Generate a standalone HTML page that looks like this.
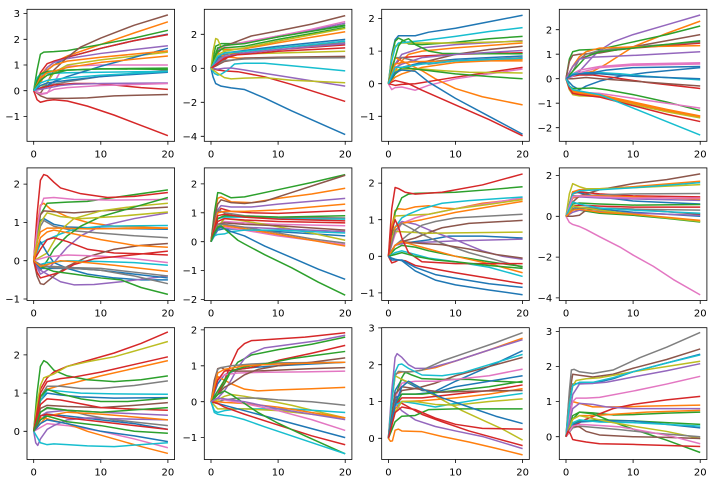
<!DOCTYPE html>
<html><head><meta charset="utf-8"><style>
body{margin:0;background:#fff}
svg{display:block}
.L path{fill:none;stroke-width:1.5px;vector-effect:non-scaling-stroke;stroke-linejoin:round}
.b{stroke:#1f77b4}.o{stroke:#ff7f0e}.g{stroke:#2ca02c}.r{stroke:#d62728}.p{stroke:#9467bd}
.n{stroke:#8c564b}.k{stroke:#e377c2}.a{stroke:#7f7f7f}.l{stroke:#bcbd22}.c{stroke:#17becf}
text{font-family:"DejaVu Sans","Liberation Sans",sans-serif;font-size:10px;fill:#000}
.ax{fill:none;stroke:#000;stroke-width:0.8}
.tk{fill:none;stroke:#000;stroke-width:0.8}
.xt{text-anchor:middle}.yt{text-anchor:end}
</style></head><body>
<svg width="720" height="488" viewBox="0 0 720 488" xmlns="http://www.w3.org/2000/svg">
<defs>
<clipPath id="c11"><rect x="27" y="9.3" width="147.6" height="132"/></clipPath>
<clipPath id="c12"><rect x="204.3" y="9.3" width="147.6" height="132"/></clipPath>
<clipPath id="c13"><rect x="381.7" y="9.3" width="147.6" height="132"/></clipPath>
<clipPath id="c14"><rect x="559.3" y="9.3" width="147.6" height="132"/></clipPath>
<clipPath id="c21"><rect x="27" y="167.9" width="147.6" height="132.6"/></clipPath>
<clipPath id="c22"><rect x="204.3" y="167.9" width="147.6" height="132.6"/></clipPath>
<clipPath id="c23"><rect x="381.7" y="167.9" width="147.6" height="132.6"/></clipPath>
<clipPath id="c24"><rect x="559.3" y="167.9" width="147.6" height="132.6"/></clipPath>
<clipPath id="c31"><rect x="27" y="327.7" width="147.6" height="131.8"/></clipPath>
<clipPath id="c32"><rect x="204.3" y="327.7" width="147.6" height="131.8"/></clipPath>
<clipPath id="c33"><rect x="381.7" y="327.7" width="147.6" height="131.8"/></clipPath>
<clipPath id="c34"><rect x="559.3" y="327.7" width="147.6" height="131.8"/></clipPath>
</defs>

<!-- (1,1) -->
<g clip-path="url(#c11)"><g class="L" transform="matrix(6.71 0 0 -25.7 33.7 90.7)">
<path class="b" d="M0 0L1 .5 2 .8 3 1 5 1.3 10 1.65 15 1.95 20 2.2"/>
<path class="o" d="M0 0L1 .6 2 .9 3 1.1 5 1.35 10 1.8 15 2.25 20 2.68"/>
<path class="g" d="M0 0L.5 .8 1 1.42 1.5 1.5 3 1.52 5 1.56 10 1.8 15 2.05 20 2.35"/>
<path class="r" d="M0 0L1 .7 2 1.05 3 1.15 5 1.3 10 1.65 15 1.95 20 2.18"/>
<path class="p" d="M0 0L1 .4 2 .9 3 1.1 5 1.25 10 1.45 20 1.75"/>
<path class="n" d="M0 0L1 -.1 2 .3 3 .8 5 1.3 7 1.7 10 2.05 15 2.55 20 2.95"/>
<path class="k" d="M0 0L1 -.15 2 -.1 3 .3 4 .75 5 .95 10 1 20 1"/>
<path class="a" d="M0 0L1 .1 2 .2 5 .35 10 .55 20 .8"/>
<path class="l" d="M0 0L1 .1 2 .3 3 .7 5 1 10 1.2 20 1.5"/>
<path class="c" d="M0 0L.5 .5 1 .65 2 .67 5 .7 10 .72 20 .75"/>
<path class="b" d="M0 0L1 .1 2 .2 3 .35 5 .55 10 .95 15 1.3 20 1.65"/>
<path class="o" d="M0 0L1 .3 2 .8 3 1 5 1.15 10 1.3 20 1.55"/>
<path class="g" d="M0 0L.5 .4 1 .65 2 .75 5 .8 10 .85 20 .88"/>
<path class="r" d="M0 0L1 .1 3 .22 6 .28 9 .28 12 .22 16 .12 20 .05"/>
<path class="p" d="M0 0L1 .05 2 .1 4 .2 6 .25 10 .28 20 .3"/>
<path class="n" d="M0 0L1 -.2 2 -.3 5 -.3 8 -.28 12 -.2 20 -.15"/>
<path class="k" d="M0 0L1 -.12 2 -.08 3 .05 5 .12 10 .2 20 .28"/>
<path class="o" d="M0 0L1 .5 2 .7 5 .9 10 1.1 20 1.35"/>
<path class="g" d="M0 0L1 .4 2 .6 5 .8 10 .85 20 .83"/>
<path class="r" d="M0 0L.5 -.35 1 -.45 2 -.38 3 -.35 5 -.4 8 -.6 12 -.95 16 -1.35 20 -1.75"/>
<path class="b" d="M0 0L1 .2 2 .3 5 .4 10 .55 20 .72"/>
<path class="c" d="M0 0L1 .3 2 .4 5 .5 10 .6 20 .75"/>
</g></g>
<rect class="ax" x="27" y="9.3" width="147.6" height="132"/>
<path class="tk" d="M33.7 141.3v3.5M100.8 141.3v3.5M167.9 141.3v3.5M27 13.6h-3.5M27 39.3h-3.5M27 65h-3.5M27 90.7h-3.5M27 116.4h-3.5"/>
<text class="xt" x="33.7" y="157.3">0</text><text class="xt" x="100.8" y="157.3">10</text><text class="xt" x="167.9" y="157.3">20</text>
<text class="yt" x="20" y="17.2">3</text><text class="yt" x="20" y="42.9">2</text><text class="yt" x="20" y="68.6">1</text><text class="yt" x="20" y="94.3">0</text><text class="yt" x="20" y="120">−1</text>

<!-- (1,2) -->
<g clip-path="url(#c12)"><g class="L" transform="matrix(6.71 0 0 -17 211 68.3)">
<path class="b" d="M0 0L.3 -.5 .7 -.9 1.5 -1.05 3 -1.15 5 -1.25 8 -1.75 12 -2.5 16 -3.2 20 -3.9"/>
<path class="o" d="M0 0L1 1.2 2 1.1 5 1.15 10 1.5 20 2.15"/>
<path class="g" d="M0 0L.7 1.3 1.5 1.45 3 1.45 5 1.5 10 1.85 20 2.55"/>
<path class="r" d="M0 0L1 -.1 2 -.15 4 -.2 6 -.35 8 -.5 12 -.95 16 -1.45 20 -1.95"/>
<path class="p" d="M0 0L1 1.1 2 1.35 5 1.5 10 1.9 15 2.25 20 2.65"/>
<path class="n" d="M0 0L1 .9 2 1.3 4 1.6 6 1.9 10 2.2 15 2.6 20 3.1"/>
<path class="k" d="M0 0L1 1 2 1.3 5 1.55 10 1.9 15 2.3 20 2.75"/>
<path class="a" d="M0 0L1 .5 2 .8 5 1 10 1.2 20 1.5"/>
<path class="l" d="M0 0L.3 1 .7 1.75 1 1.7 1.5 1.25 2 .95 3 .85 5 .85 10 .9 20 1"/>
<path class="c" d="M0 0L.5 -.3 1 -.4 1.5 -.35 2.5 -.1 3.5 .25 5 .3 8 .3 12 .15 20 -.15"/>
<path class="b" d="M0 0L1 .6 2 .9 5 1.05 10 1.3 20 1.7"/>
<path class="o" d="M0 0L.5 .5 1 .9 2 .7 4 .6 10 .62 20 .65"/>
<path class="g" d="M0 0L1 1.2 2 1.35 5 1.45 10 1.85 20 2.5"/>
<path class="r" d="M0 0L1 .2 2 .5 3 .8 5 .9 10 1.1 20 1.38"/>
<path class="p" d="M0 0L1 -.05 2 0 3 .02 5 -.1 8 -.3 12 -.55 20 -1.05"/>
<path class="n" d="M0 0L1 .2 2 .4 5 .6 10 .65 20 .7"/>
<path class="g" d="M0 0L1 1 2 1.2 5 1.3 10 1.7 20 2.4"/>
<path class="a" d="M0 0L1 .3 2 .45 5 .55 10 .6 20 .62"/>
<path class="l" d="M0 0L1 .8 2 1 5 1.2 10 1.6 20 2.35"/>
<path class="c" d="M0 0L1 .7 2 .9 5 1 10 1.2 20 1.6"/>
<path class="p" d="M0 0L1 .4 2 .7 5 .9 10 1.1 20 1.45"/>
<path class="r" d="M0 0L1 .3 2 .6 4 .8 6 .85 10 1 20 1.2"/>
<path class="l" d="M0 0L1 -.3 2 -.55 3 -.62 5 -.58 8 -.55 12 -.7 20 -.85"/>
</g></g>
<rect class="ax" x="204.3" y="9.3" width="147.6" height="132"/>
<path class="tk" d="M211 141.3v3.5M278.1 141.3v3.5M345.2 141.3v3.5M204.3 34.3h-3.5M204.3 68.3h-3.5M204.3 102.3h-3.5M204.3 136.3h-3.5"/>
<text class="xt" x="211" y="157.3">0</text><text class="xt" x="278.1" y="157.3">10</text><text class="xt" x="345.2" y="157.3">20</text>
<text class="yt" x="197.3" y="37.9">2</text><text class="yt" x="197.3" y="71.9">0</text><text class="yt" x="197.3" y="105.9">−2</text><text class="yt" x="197.3" y="139.9">−4</text>

<!-- (1,3) -->
<g clip-path="url(#c13)"><g class="L" transform="matrix(6.71 0 0 -32.6 388.4 83.7)">
<path class="b" d="M0 0L.5 .9 1 1.35 1.5 1.47 2 1.47 4 1.47 6 1.58 10 1.7 15 1.9 20 2.1"/>
<path class="o" d="M0 0L1 .4 2 .7 3 .9 5 1 10 1.1 20 1.25"/>
<path class="g" d="M0 0L.5 .8 1 1.3 1.5 1.4 2 1.35 3 1.22 5 1.2 10 1.27 15 1.38 20 1.45"/>
<path class="r" d="M0 0L1 .6 2 .8 5 .85 10 .9 20 .95"/>
<path class="p" d="M0 0L1 .6 2 .9 5 1.1 10 1.2 20 1.32"/>
<path class="n" d="M0 0L1 .3 2 .45 5 .65 10 .9 15 1.05 20 1.15"/>
<path class="k" d="M0 0L.5 -.18 1 -.12 2 -.1 3 -.15 4 -.2 6 -.05 10 .15 15 .3 20 .45"/>
<path class="a" d="M0 0L1 .8 2 .8 4 .7 6 .6 10 .7 20 .8"/>
<path class="l" d="M0 0L.5 .8 1 1.15 2 1.25 5 1.25 10 1.25 20 1.3"/>
<path class="c" d="M0 0L.5 .7 1 1.1 1.5 1.25 3 1.28 5 1.32 10 1.45 15 1.6 20 1.72"/>
<path class="b" d="M0 0L1 .3 2 .5 5 .65 10 .75 20 .85"/>
<path class="o" d="M0 0L.5 .5 1 .8 1.5 .75 3 .6 5 .4 7 .15 10 -.15 14 -.4 20 -.65"/>
<path class="g" d="M0 0L1 .8 1.5 1.15 2 1.3 3 1.38 4 1.2 6 1 8 .93 12 .92 20 .92"/>
<path class="r" d="M0 0L.5 .05 1 .1 2 .05 3 0 5 -.2 10 -.65 15 -1.1 20 -1.6"/>
<path class="p" d="M0 0L1 .5 2 .6 5 .8 10 .9 20 1.02"/>
<path class="o" d="M0 0L1 .2 2 .3 5 .5 10 .65 20 .75"/>
<path class="o" d="M0 0L1 .6 2 .65 5 .68 10 .7 20 .7"/>
<path class="r" d="M0 0L1 -.05 2 -.02 4 0 7 .1 10 .2 15 .35 20 .5"/>
<path class="l" d="M0 0L1 .4 2 .45 5 .45 8 .4 12 .35 20 .33"/>
<path class="g" d="M0 0L1 .3 2 .5 4 .45 6 .4 10 .3 15 .22 20 .15"/>
<path class="b" d="M0 0L1 .35 2 .42 4 .38 6 .05 10 -.45 15 -1 20 -1.55"/>
<path class="c" d="M0 0L1 .5 2 .5 5 .6 10 .7 20 .78"/>
</g></g>
<rect class="ax" x="381.7" y="9.3" width="147.6" height="132"/>
<path class="tk" d="M388.4 141.3v3.5M455.5 141.3v3.5M522.6 141.3v3.5M381.7 18.5h-3.5M381.7 51.1h-3.5M381.7 83.7h-3.5M381.7 116.3h-3.5"/>
<text class="xt" x="388.4" y="157.3">0</text><text class="xt" x="455.5" y="157.3">10</text><text class="xt" x="522.6" y="157.3">20</text>
<text class="yt" x="374.7" y="22.1">2</text><text class="yt" x="374.7" y="54.7">1</text><text class="yt" x="374.7" y="87.3">0</text><text class="yt" x="374.7" y="119.9">−1</text>

<!-- (1,4) -->
<g clip-path="url(#c14)"><g class="L" transform="matrix(6.71 0 0 -24.5 566 78.7)">
<path class="b" d="M0 0L1 -.3 2 -.45 3 -.3 5 -.1 8 .1 12 .25 20 .45"/>
<path class="o" d="M0 0L1 .1 2 .2 4 .3 6 .6 8 .95 10 1.3 15 1.85 20 2.35"/>
<path class="g" d="M0 0L.5 .8 1 1.1 2 1.17 5 1.2 10 1.5 15 1.8 20 2.15"/>
<path class="r" d="M0 0L1 .5 2 .8 5 1.1 10 1.25 20 1.45"/>
<path class="p" d="M0 0L1 .1 2 .3 4 .9 5 1.15 7 1.5 10 1.8 15 2.2 20 2.6"/>
<path class="n" d="M0 0L.5 .7 1 .95 2 1 5 1.05 10 1.3 15 1.55 20 1.8"/>
<path class="k" d="M0 0L1 .2 2 .35 5 .5 10 .6 20 .65"/>
<path class="a" d="M0 0L1 .3 2 .8 3 1 5 1.15 10 1.3 20 1.5"/>
<path class="l" d="M0 0L.5 -.45 1 -.65 2 -.7 5 -.72 10 -1.05 15 -1.35 20 -1.6"/>
<path class="c" d="M0 0L1 .2 2 .25 5 .25 8 .2 12 .1 20 -.05"/>
<path class="b" d="M0 0L1 .1 2 .2 4 .25 6 .35 10 .45 20 .5"/>
<path class="o" d="M0 0L1 .5 2 .9 3 1.1 5 1.25 10 1.3 20 1.35"/>
<path class="g" d="M0 0L1 .3 2 .6 3 .9 5 1.1 10 1.25 20 1.55"/>
<path class="r" d="M0 0L1 .1 2 .15 4 .15 7 .05 12 -.15 20 -.4"/>
<path class="p" d="M0 0L1 .5 2 .8 4 .88 6 .9 10 .95 20 1.1"/>
<path class="n" d="M0 0L1 0 3 .05 5 0 10 -.1 15 -.2 20 -.3"/>
<path class="k" d="M0 0L1 .1 2 .25 5 .45 10 .55 20 .6"/>
<path class="b" d="M0 0L1 .15 2 .2 5 .2 10 .1 20 0"/>
<path class="g" d="M0 0L.5 -.3 1 -.4 2 -.4 4 -.38 6 -.45 10 -.65 15 -.95 20 -1.3"/>
<path class="k" d="M0 0L.5 -.4 1 -.6 2 -.55 5 -.6 10 -.8 15 -1 20 -1.2"/>
<path class="o" d="M0 0L.5 -.4 1 -.55 2 -.6 5 -.7 10 -1 15 -1.3 20 -1.55"/>
<path class="o" d="M0 0L.5 -.3 1 -.5 2 -.55 5 -.65 10 -.95 15 -1.25 20 -1.52"/>
<path class="r" d="M0 0L.5 -.4 1 -.6 2 -.65 5 -.75 10 -1.1 15 -1.45 20 -1.75"/>
<path class="c" d="M0 0L.5 -.3 1 -.45 2 -.5 5 -.65 10 -1.2 15 -1.75 20 -2.3"/>
</g></g>
<rect class="ax" x="559.3" y="9.3" width="147.6" height="132"/>
<path class="tk" d="M566 141.3v3.5M633.1 141.3v3.5M700.2 141.3v3.5M559.3 29.7h-3.5M559.3 54.2h-3.5M559.3 78.7h-3.5M559.3 103.2h-3.5M559.3 127.7h-3.5"/>
<text class="xt" x="566" y="157.3">0</text><text class="xt" x="633.1" y="157.3">10</text><text class="xt" x="700.2" y="157.3">20</text>
<text class="yt" x="552.3" y="33.3">2</text><text class="yt" x="552.3" y="57.8">1</text><text class="yt" x="552.3" y="82.3">0</text><text class="yt" x="552.3" y="106.8">−1</text><text class="yt" x="552.3" y="131.3">−2</text>

<!-- (2,1) -->
<g clip-path="url(#c21)"><g class="L" transform="matrix(6.71 0 0 -38.3 33.7 260.7)">
<path class="b" d="M0 0L1 1.05 1.5 1.1 3 .95 5 .88 10 .85 20 .82"/>
<path class="o" d="M0 0L.5 .9 1 1.45 1.5 1.5 2.5 1.35 5 1.15 8 1 12 .9 20 .85"/>
<path class="g" d="M0 0L.5 .6 1 1.2 2 1.5 5 1.53 8 1.55 12 1.65 20 1.85"/>
<path class="r" d="M0 0L.5 1.2 1 2.1 1.5 2.25 2 2.22 3 2.05 4 1.9 7 1.75 11 1.65 15 1.68 20 1.78"/>
<path class="p" d="M0 0L1 -.35 2 -.25 3 -.05 5 .35 7 .65 10 .9 15 1.1 20 1.25"/>
<path class="n" d="M0 0L.5 .8 1 1.2 1.5 1.3 3 1.28 6 1.25 10 1.3 20 1.4"/>
<path class="k" d="M0 0L.5 .8 1 1.4 1.5 1.63 3 1.65 6 1.6 12 1.58 20 1.6"/>
<path class="a" d="M0 0L1 .9 1.5 1.05 3 .9 6 .78 10 .72 15 .65 20 .6"/>
<path class="l" d="M0 0L1 .1 2 .2 3 .5 4 .8 6 1.1 10 1.3 15 1.42 20 1.5"/>
<path class="c" d="M0 0L1 .45 2 .55 4 .7 6 .82 10 .9 20 .92"/>
<path class="b" d="M0 0L.5 .3 1 .5 2 .2 3 -.05 5 -.2 8 -.35 12 -.45 16 -.5 20 -.5"/>
<path class="o" d="M0 0L.5 .5 1 .75 2 .85 4 .85 8 .83 20 .85"/>
<path class="g" d="M0 0L1 -.25 2 0 3 .3 5 .65 7 .9 10 1.15 15 1.4 20 1.65"/>
<path class="r" d="M0 0L1 .3 2 .55 3 .6 5 .5 8 .3 12 .2 16 .18 20 .15"/>
<path class="p" d="M0 0L1 -.25 2 -.35 4 -.55 6 -.63 9 -.62 13 -.55 20 -.4"/>
<path class="n" d="M0 0L.5 -.4 1 -.6 1.5 -.62 3 -.4 5 -.15 8 .1 12 .3 16 .4 20 .45"/>
<path class="k" d="M0 0L1 .05 2 .1 5 .15 10 .12 15 .05 20 -.05"/>
<path class="a" d="M0 0L1 -.15 3 -.15 6 -.18 10 -.2 15 -.3 20 -.4"/>
<path class="l" d="M0 0L1 1 2 1.25 4 1.15 7 1.1 12 1.15 20 1.27"/>
<path class="c" d="M0 0L1 -.1 2 -.05 5 0 10 -.02 15 -.05 20 -.12"/>
<path class="b" d="M0 0L1 -.2 3 -.2 6 -.2 10 -.25 15 -.35 20 -.45"/>
<path class="o" d="M0 0L1 .6 2 .75 3 .8 6 .7 10 .55 15 .4 20 .35"/>
<path class="r" d="M0 0L.5 -.3 1 -.45 2 -.4 4 -.3 6 -.1 9 .05 13 .12 20 .25"/>
<path class="a" d="M0 0L1 -.1 3 -.18 6 -.2 10 -.25 15 -.4 20 -.6"/>
<path class="g" d="M0 0L1 -.15 3 -.28 6 -.35 10 -.45 13 -.5 16 -.7 20 -.88"/>
<path class="o" d="M0 0L1 -.15 2 -.1 4 0 8 -.05 12 -.12 20 -.28"/>
</g></g>
<rect class="ax" x="27" y="167.9" width="147.6" height="132.6"/>
<path class="tk" d="M33.7 300.5v3.5M100.8 300.5v3.5M167.9 300.5v3.5M27 184.1h-3.5M27 222.4h-3.5M27 260.7h-3.5M27 299h-3.5"/>
<text class="xt" x="33.7" y="316.5">0</text><text class="xt" x="100.8" y="316.5">10</text><text class="xt" x="167.9" y="316.5">20</text>
<text class="yt" x="20" y="187.7">2</text><text class="yt" x="20" y="226">1</text><text class="yt" x="20" y="264.3">0</text><text class="yt" x="20" y="302.6">−1</text>

<!-- (2,2) -->
<g clip-path="url(#c22)"><g class="L" transform="matrix(6.71 0 0 -28.9 211 241.7)">
<path class="b" d="M0 0L1 .4 2 .45 5 .42 10 .35 20 .2"/>
<path class="o" d="M0 0L.5 .9 1 1.5 1.5 1.55 3 1.38 6 1.35 10 1.5 15 1.65 20 1.85"/>
<path class="g" d="M0 0L.5 1 1 1.7 1.5 1.68 3 1.52 5 1.55 10 1.8 15 2.05 20 2.32"/>
<path class="r" d="M0 0L1 1 1.5 1.15 3 1.05 6 1 10 .98 20 1.08"/>
<path class="p" d="M0 0L1 1.1 1.5 1.25 3 1.2 6 1.2 10 1.3 15 1.4 20 1.5"/>
<path class="n" d="M0 0L.5 .8 1 1.3 1.5 1.45 3 1.35 5 1.32 8 1.4 12 1.7 16 2 20 2.3"/>
<path class="k" d="M0 0L1 .6 2 .7 5 .65 10 .6 20 .55"/>
<path class="a" d="M0 0L1 1.1 2 1 5 .9 10 .85 20 .82"/>
<path class="l" d="M0 0L1 .5 2 .8 4 .75 8 .6 14 .35 20 .05"/>
<path class="c" d="M0 0L1 .8 2 .85 5 .85 10 .8 20 .78"/>
<path class="o" d="M0 0L1 1 2 1.05 5 1.05 10 1.1 20 1.3"/>
<path class="g" d="M0 0L1 .8 2 .9 5 .88 10 .85 20 .9"/>
<path class="r" d="M0 0L1 .7 2 .8 5 .75 10 .7 20 .65"/>
<path class="p" d="M0 0L1 .5 2 .55 5 .5 10 .45 20 .35"/>
<path class="n" d="M0 0L1 .6 2 .65 5 .6 10 .55 20 .4"/>
<path class="k" d="M0 0L1 .45 2 .5 5 .4 10 .2 15 .05 20 -.1"/>
<path class="a" d="M0 0L1 .6 2 .6 5 .5 10 .3 15 .1 20 -.05"/>
<path class="o" d="M0 0L1 .5 2 .55 5 .45 10 .25 15 .05 20 -.15"/>
<path class="r" d="M0 0L1 .9 2 .95 5 .85 10 .78 20 .72"/>
<path class="c" d="M0 0L.5 .2 1 .25 2 .27 3 .35 5 .4 10 .4 15 .35 20 .3"/>
<path class="b" d="M0 0L.5 .25 1 .45 1.5 .5 3 .35 5 .2 8 -.15 12 -.55 16 -.95 20 -1.3"/>
<path class="g" d="M0 0L.5 .3 1 .5 1.5 .55 2.5 .35 4 .05 5 -.08 8 -.45 12 -.9 16 -1.4 20 -1.85"/>
</g></g>
<rect class="ax" x="204.3" y="167.9" width="147.6" height="132.6"/>
<path class="tk" d="M211 300.5v3.5M278.1 300.5v3.5M345.2 300.5v3.5M204.3 183.9h-3.5M204.3 212.8h-3.5M204.3 241.7h-3.5M204.3 270.6h-3.5M204.3 299.5h-3.5"/>
<text class="xt" x="211" y="316.5">0</text><text class="xt" x="278.1" y="316.5">10</text><text class="xt" x="345.2" y="316.5">20</text>
<text class="yt" x="197.3" y="187.5">2</text><text class="yt" x="197.3" y="216.4">1</text><text class="yt" x="197.3" y="245.3">0</text><text class="yt" x="197.3" y="274.2">−1</text><text class="yt" x="197.3" y="303.1">−2</text>

<!-- (2,3) -->
<g clip-path="url(#c23)"><g class="L" transform="matrix(6.71 0 0 -36.6 388.4 256.3)">
<path class="b" d="M0 0L1 .3 2 .35 4 .4 6 .45 9 .55 14 .55 20 .5"/>
<path class="o" d="M0 0L.5 .8 1 1.25 1.5 1.3 2.5 1.28 4 1.35 6 1.38 8 1.32 10 1.3 14 1.45 20 1.57"/>
<path class="g" d="M0 0L.5 .5 1 1.2 2 1.6 3 1.7 4 1.72 10 1.75 15 1.82 20 1.9"/>
<path class="r" d="M0 0L.5 1.3 1 1.88 1.5 1.85 2.5 1.75 4 1.7 8 1.75 14 1.95 20 2.25"/>
<path class="p" d="M0 0L1 .8 2 .95 4 .88 7 .65 10 .45 14 .15 17 0 20 -.08"/>
<path class="n" d="M0 0L1 .3 2 .4 4 .5 6 .65 8 .78 12 .9 20 .98"/>
<path class="k" d="M0 0L1 .6 2 .9 4 1.05 6 1.15 10 1.3 15 1.45 20 1.6"/>
<path class="a" d="M0 0L1 .3 2 .45 3 .6 5 .85 7 .95 10 1.05 20 1.15"/>
<path class="l" d="M0 0L.5 .7 1 1.1 3 1.12 6 1.15 10 1.3 15 1.42 20 1.55"/>
<path class="c" d="M0 0L1 .8 2 1.05 3 1.15 5 1.3 8 1.45 12 1.52 20 1.62"/>
<path class="o" d="M0 0L1 .8 2 .9 5 1 10 1.2 15 1.35 20 1.5"/>
<path class="l" d="M0 0L.5 .5 1 .68 3 .66 6 .63 10 .64 20 .66"/>
<path class="p" d="M0 0L1 .3 2 .35 5 .38 10 .42 20 .47"/>
<path class="a" d="M0 0L1 .7 2 .9 3 .8 5 .6 8 .35 12 .1 16 -.1 20 -.3"/>
<path class="n" d="M0 0L1 .3 2 .4 5 .35 8 .32 12 .2 16 .05 20 -.05"/>
<path class="g" d="M0 0L1 .2 2 .3 4 .25 6 .15 10 0 15 -.15 20 -.28"/>
<path class="o" d="M0 0L1 .3 2 .4 4 .3 6 .2 10 0 15 -.2 20 -.45"/>
<path class="c" d="M0 0L1 .1 2 .15 4 .05 6 -.05 10 -.15 15 -.3 20 -.55"/>
<path class="r" d="M0 0L.5 .7 1 1 1.5 .8 2 .5 3 .1 5 -.15 10 -.2 15 -.2 20 -.2"/>
<path class="g" d="M0 0L1 .05 2 .1 4 0 7 -.1 10 -.15 15 -.25 20 -.33"/>
<path class="r" d="M0 0L.5 -.18 1 -.15 1.5 -.1 2.5 -.12 4 -.25 7 -.35 10 -.45 15 -.6 20 -.75"/>
<path class="b" d="M0 0L.5 -.1 1 -.1 2 -.1 4 -.3 7 -.5 10 -.6 15 -.75 20 -.85"/>
<path class="b" d="M0 0L.5 -.05 1 -.08 2 -.12 4 -.4 7 -.65 10 -.78 15 -.92 20 -1.05"/>
</g></g>
<rect class="ax" x="381.7" y="167.9" width="147.6" height="132.6"/>
<path class="tk" d="M388.4 300.5v3.5M455.5 300.5v3.5M522.6 300.5v3.5M381.7 183.1h-3.5M381.7 219.7h-3.5M381.7 256.3h-3.5M381.7 292.9h-3.5"/>
<text class="xt" x="388.4" y="316.5">0</text><text class="xt" x="455.5" y="316.5">10</text><text class="xt" x="522.6" y="316.5">20</text>
<text class="yt" x="374.7" y="186.7">2</text><text class="yt" x="374.7" y="223.3">1</text><text class="yt" x="374.7" y="259.9">0</text><text class="yt" x="374.7" y="296.5">−1</text>

<!-- (2,4) -->
<g clip-path="url(#c24)"><g class="L" transform="matrix(6.71 0 0 -20.4 566 216.3)">
<path class="b" d="M0 0L1 1.2 2 1.15 5 .95 10 .75 20 .6"/>
<path class="o" d="M0 0L1 1.2 2 1.3 5 1.35 10 1.45 20 1.72"/>
<path class="g" d="M0 0L1 .6 2 .65 5 .6 10 .55 20 .58"/>
<path class="r" d="M0 0L1 1.1 2 1.2 5 1.1 10 1 20 .95"/>
<path class="p" d="M0 0L1 .9 2 .95 5 .9 10 .85 20 .78"/>
<path class="n" d="M0 0L1 .7 2 1 5 1.3 10 1.6 15 1.8 20 2.08"/>
<path class="k" d="M0 0L.5 -.3 1 -.4 2 -.5 3 -.65 5 -1 8 -1.5 10 -1.9 13 -2.45 16 -3.1 20 -3.85"/>
<path class="a" d="M0 0L1 1 2 1 5 1.05 10 1.1 20 1.12"/>
<path class="l" d="M0 0L.5 1.1 1 1.6 2 1.45 3 1.35 5 1.35 10 1.4 20 1.55"/>
<path class="c" d="M0 0L1 1.1 2 1.25 5 1.3 10 1.4 20 1.65"/>
<path class="b" d="M0 0L1 .3 2 .4 5 .35 10 .2 20 0"/>
<path class="o" d="M0 0L1 .9 2 1 5 1 10 .95 20 .85"/>
<path class="g" d="M0 0L1 .35 2 .3 5 .15 10 .05 15 -.1 20 -.28"/>
<path class="r" d="M0 0L1 .5 2 .55 5 .5 10 .45 20 .45"/>
<path class="p" d="M0 0L1 .2 2 .3 5 .25 10 .15 20 .05"/>
<path class="n" d="M0 0L1 0 2 .05 3 .3 5 .4 10 .35 20 .1"/>
<path class="k" d="M0 0L1 .95 2 1 5 .95 10 .9 20 .9"/>
<path class="a" d="M0 0L1 .4 2 .45 5 .4 10 .35 20 .3"/>
<path class="l" d="M0 0L1 .5 2 .45 5 .3 10 .1 20 -.25"/>
<path class="c" d="M0 0L1 .7 2 .6 5 .4 10 .3 20 .15"/>
<path class="o" d="M0 0L1 .3 2 .35 5 .2 10 .1 20 -.2"/>
</g></g>
<rect class="ax" x="559.3" y="167.9" width="147.6" height="132.6"/>
<path class="tk" d="M566 300.5v3.5M633.1 300.5v3.5M700.2 300.5v3.5M559.3 175.5h-3.5M559.3 216.3h-3.5M559.3 257.1h-3.5M559.3 297.9h-3.5"/>
<text class="xt" x="566" y="316.5">0</text><text class="xt" x="633.1" y="316.5">10</text><text class="xt" x="700.2" y="316.5">20</text>
<text class="yt" x="552.3" y="179.1">2</text><text class="yt" x="552.3" y="219.9">0</text><text class="yt" x="552.3" y="260.7">−2</text><text class="yt" x="552.3" y="301.5">−4</text>

<!-- (3,1) -->
<g clip-path="url(#c31)"><g class="L" transform="matrix(6.71 0 0 -38.2 33.7 431.3)">
<path class="b" d="M0 0L1 .8 2 1 4 .95 7 .9 12 .87 20 .88"/>
<path class="o" d="M0 0L1 .8 2 1.1 4 1.2 6 1.27 10 1.45 15 1.65 20 1.85"/>
<path class="g" d="M0 0L.5 1 1 1.7 1.5 1.85 2 1.8 3 1.6 5 1.45 8 1.35 12 1.3 16 1.35 20 1.45"/>
<path class="r" d="M0 0L.5 .6 1 1.1 2 1.4 3 1.55 5 1.7 8 1.85 12 2.05 16 2.3 20 2.6"/>
<path class="p" d="M0 0L1 .4 2 .5 5 .55 10 .5 20 .42"/>
<path class="n" d="M0 0L1 .6 2 .68 5 .65 10 .62 15 .68 20 .75"/>
<path class="k" d="M0 0L1 .1 2 .2 5 .15 10 0 15 -.2 20 -.43"/>
<path class="a" d="M0 0L1 .9 2 1.18 4 1.18 7 1.12 10 1.12 15 1.2 20 1.32"/>
<path class="l" d="M0 0L.5 .7 1 1.2 1.5 1.4 3 1.5 5 1.7 8 1.82 12 1.95 16 2.15 20 2.35"/>
<path class="c" d="M0 0L1 .8 2 1.08 4 1.05 7 1 12 .98 20 .97"/>
<path class="b" d="M0 0L1 .3 2 .45 5 .4 10 .3 15 .2 20 .05"/>
<path class="o" d="M0 0L.5 .2 1 .35 2 .33 3 .28 5 .2 8 0 12 -.2 16 -.4 20 -.58"/>
<path class="g" d="M0 0L1 .9 2 1.1 4 .98 7 .85 10 .78 14 .78 20 .87"/>
<path class="r" d="M0 0L1 1 2 1.3 4 1.38 6 1.42 10 1.55 15 1.75 20 1.95"/>
<path class="p" d="M0 0L.3 -.3 .6 -.37 1 -.2 2 .05 3 .15 5 .3 8 .35 12 .33 20 .3"/>
<path class="a" d="M0 0L1 .5 2 .6 5 .55 8 .42 12 .3 20 .15"/>
<path class="r" d="M0 0L1 .7 2 .85 4 .82 7 .72 10 .62 15 .58 20 .55"/>
<path class="o" d="M0 0L1 .2 2 .4 5 .5 10 .45 20 .3"/>
<path class="g" d="M0 0L1 .3 2 .4 5 .25 10 .15 15 0 20 -.05"/>
<path class="b" d="M0 0L1 .2 2 .3 5 .2 10 0 15 -.12 20 -.27"/>
<path class="c" d="M0 0L.5 -.15 1 -.3 2 -.35 3 -.33 5 -.35 8 -.38 12 -.4 16 -.35 20 -.3"/>
<path class="r" d="M0 0L1 .4 2 .45 5 .35 10 .25 20 .05"/>
<path class="g" d="M0 0L1 .5 2 .62 5 .55 10 .5 20 .62"/>
</g></g>
<rect class="ax" x="27" y="327.7" width="147.6" height="131.8"/>
<path class="tk" d="M33.7 459.5v3.5M100.8 459.5v3.5M167.9 459.5v3.5M27 354.9h-3.5M27 393.1h-3.5M27 431.3h-3.5"/>
<text class="xt" x="33.7" y="475.5">0</text><text class="xt" x="100.8" y="475.5">10</text><text class="xt" x="167.9" y="475.5">20</text>
<text class="yt" x="20" y="358.5">2</text><text class="yt" x="20" y="396.7">1</text><text class="yt" x="20" y="434.9">0</text>

<!-- (3,2) -->
<g clip-path="url(#c32)"><g class="L" transform="matrix(6.71 0 0 -35.9 211 401.7)">
<path class="b" d="M0 0L1 .5 2 .75 4 .9 6 .95 10 1 20 1.1"/>
<path class="o" d="M0 0L.5 .4 1 .7 2 .6 3 .5 5 .35 7 .3 10 .33 15 .36 20 .4"/>
<path class="g" d="M0 0L1 .2 2 .5 3 .85 4 1.1 6 1.3 10 1.45 15 1.6 20 1.8"/>
<path class="r" d="M0 0L1 .2 2 .6 3 1.05 4 1.45 5 1.62 6 1.7 10 1.75 14 1.8 20 1.92"/>
<path class="p" d="M0 0L1 .1 2 .3 3 .6 4 .95 5 1.2 6 1.35 8 1.5 12 1.6 16 1.7 20 1.85"/>
<path class="n" d="M0 0L.5 .6 1 .92 1.5 .95 2 .9 3 .85 6 .85 10 .88 15 .92 20 .95"/>
<path class="k" d="M0 0L1 .6 2 .75 4 .8 8 .82 14 .83 20 .85"/>
<path class="a" d="M0 0L1 .9 1.5 .95 3 1 6 1.05 10 1.08 20 1.1"/>
<path class="l" d="M0 0L1 .05 2 .15 3 .2 5 .15 8 .05 12 -.1 16 -.28 20 -.45"/>
<path class="c" d="M0 0L.5 -.25 1 -.3 2 -.25 4 -.2 8 -.2 12 -.2 20 -.3"/>
<path class="r" d="M0 0L1 .6 2 .85 4 .9 6 .95 10 1.15 15 1.35 20 1.57"/>
<path class="g" d="M0 0L1 .3 2 .6 3 .85 5 .97 8 1.05 12 1.2 16 1.3 20 1.4"/>
<path class="n" d="M0 0L1 .2 2 .4 3 .5 5 .75 7 .9 10 1 15 1.1 20 1.22"/>
<path class="o" d="M0 0L1 .8 2 .9 5 1 10 1.05 20 1.1"/>
<path class="a" d="M0 0L1 0 2 .05 4 .1 7 .1 10 .05 15 0 20 -.1"/>
<path class="l" d="M0 0L1 -.2 2 -.2 5 -.2 10 -.25 20 -.45"/>
<path class="o" d="M0 0L1 0 2 -.02 5 -.05 10 -.15 15 -.3 20 -.45"/>
<path class="k" d="M0 0L1 .1 2 .05 5 -.05 10 -.25 15 -.5 20 -.8"/>
<path class="b" d="M0 0L1 -.05 2 -.1 5 -.25 10 -.5 15 -.75 20 -1"/>
<path class="r" d="M0 0L1 -.05 2 -.15 5 -.35 10 -.65 15 -.95 20 -1.2"/>
<path class="g" d="M0 0L1 .2 2 .3 3 .2 5 -.05 7 -.3 10 -.6 14 -.95 20 -1.45"/>
<path class="c" d="M0 0L.5 -.3 1 -.35 2 -.38 3 -.4 5 -.5 8 -.7 12 -.95 16 -1.2 20 -1.45"/>
<path class="p" d="M0 0L1 .1 2 .08 5 0 10 -.2 15 -.35 20 -.5"/>
</g></g>
<rect class="ax" x="204.3" y="327.7" width="147.6" height="131.8"/>
<path class="tk" d="M211 459.5v3.5M278.1 459.5v3.5M345.2 459.5v3.5M204.3 329.9h-3.5M204.3 365.8h-3.5M204.3 401.7h-3.5M204.3 437.6h-3.5"/>
<text class="xt" x="211" y="475.5">0</text><text class="xt" x="278.1" y="475.5">10</text><text class="xt" x="345.2" y="475.5">20</text>
<text class="yt" x="197.3" y="333.5">2</text><text class="yt" x="197.3" y="369.4">1</text><text class="yt" x="197.3" y="405.3">0</text><text class="yt" x="197.3" y="441.2">−1</text>

<!-- (3,3) -->
<g clip-path="url(#c33)"><g class="L" transform="matrix(6.71 0 0 -36.8 388.4 438.3)">
<path class="b" d="M0 0L1 1.3 2 1.6 3 1.5 5 1.3 7 1.28 10 1.55 15 1.95 20 2.38"/>
<path class="o" d="M0 0L.5 1.1 1 1.75 2 1.8 4 1.82 7 1.92 10 2.1 15 2.4 20 2.72"/>
<path class="g" d="M0 0L1 1.1 2 1.65 2.5 1.8 3.5 1.72 5 1.62 8 1.6 12 1.6 16 1.55 20 1.52"/>
<path class="r" d="M0 0L.5 .6 1 1.05 2 .95 3 .85 5 .65 8 .45 12 .2 16 0 20 -.2"/>
<path class="p" d="M0 0L.5 1.3 1 2.2 1.3 2.3 2 2.2 3 2 4 1.9 6 1.9 10 2.1 15 2.4 20 2.68"/>
<path class="n" d="M0 0L1 1 2 1.3 4 1.35 7 1.5 10 1.7 15 1.95 20 2.2"/>
<path class="k" d="M0 0L1 1.1 2 1.5 4 1.55 7 1.55 10 1.6 15 1.7 20 1.88"/>
<path class="a" d="M0 0L.5 1 1 1.7 1.5 1.82 3 1.8 5 1.85 8 2.1 12 2.35 16 2.6 20 2.87"/>
<path class="l" d="M0 0L.5 1 1 1.7 2 1.6 4 1.45 6 1.25 8 1.05 11 .75 14 .5 17 .25 20 -.05"/>
<path class="c" d="M0 0L.5 1 1 1.8 1.5 2 2 2.02 3 1.9 5 1.72 8 1.7 11 1.78 15 2 20 2.28"/>
<path class="b" d="M0 0L1 1.1 2 1.2 4 1.2 7 1.25 10 1.4 15 1.55 20 1.7"/>
<path class="o" d="M0 0L1 .8 2 1 5 1.02 10 1.1 15 1.2 20 1.35"/>
<path class="g" d="M0 0L1 .9 2 1.2 5 1.2 10 1.3 15 1.4 20 1.55"/>
<path class="r" d="M0 0L1 .9 2 1.1 5 1.1 10 1.2 15 1.3 20 1.45"/>
<path class="p" d="M0 0L.5 .6 1 .95 2 .75 4 .5 7 .32 10 .2 14 .05 20 -.28"/>
<path class="n" d="M0 0L1 1.2 2 1.4 4 1.35 8 1.25 12 1.28 20 1.3"/>
<path class="c" d="M0 0L1 .9 2 1 4 .95 7 .85 10 .95 15 1.1 20 1.22"/>
<path class="l" d="M0 0L1 .7 2 1 4 1 7 .92 10 .9 15 1 20 1.07"/>
<path class="g" d="M0 0L1 .45 2 .6 4 .62 6 .78 10 .8 15 .8 20 .8"/>
<path class="b" d="M0 0L1 .9 2 1.4 3 1.55 5 1.35 8 1.1 12 .85 16 .6 20 .4"/>
<path class="r" d="M0 0L1 .7 2 .85 4 .78 7 .55 10 .38 14 .27 20 .25"/>
<path class="o" d="M0 0L.3 -.08 .6 -.07 1 .22 1.5 .25 2 .2 5 .18 8 .05 12 -.1 16 -.27 20 -.45"/>
</g></g>
<rect class="ax" x="381.7" y="327.7" width="147.6" height="131.8"/>
<path class="tk" d="M388.4 459.5v3.5M455.5 459.5v3.5M522.6 459.5v3.5M381.7 327.9h-3.5M381.7 364.7h-3.5M381.7 401.5h-3.5M381.7 438.3h-3.5"/>
<text class="xt" x="388.4" y="475.5">0</text><text class="xt" x="455.5" y="475.5">10</text><text class="xt" x="522.6" y="475.5">20</text>
<text class="yt" x="374.7" y="331.5">3</text><text class="yt" x="374.7" y="368.3">2</text><text class="yt" x="374.7" y="405.1">1</text><text class="yt" x="374.7" y="441.9">0</text>

<!-- (3,4) -->
<g clip-path="url(#c34)"><g class="L" transform="matrix(6.71 0 0 -35.1 566 436.7)">
<path class="b" d="M0 0L.5 1 1 1.5 2 1.52 4 1.52 7 1.65 10 1.85 15 2.1 20 2.35"/>
<path class="o" d="M0 0L.5 .7 1 1 2 .95 4 .85 8 .85 12 .87 20 .9"/>
<path class="g" d="M0 0L1 .6 2 .7 4 .68 7 .62 10 .63 15 .67 20 .7"/>
<path class="r" d="M0 0L1 .3 2 .4 3 .5 5 .65 7 .8 10 .92 15 1.05 20 1.15"/>
<path class="p" d="M0 0L1 1.2 2 1.5 4 1.52 6 1.55 10 1.7 15 1.88 20 2.08"/>
<path class="n" d="M0 0L.5 1.2 1 1.78 2 1.75 4 1.7 7 1.78 10 1.95 15 2.2 20 2.5"/>
<path class="k" d="M0 0L1 1 1.5 1.1 3 1.1 5 1.12 10 1.3 15 1.5 20 1.72"/>
<path class="a" d="M0 0L.5 1.3 .8 1.9 1.2 1.92 2 1.85 4 1.8 7 1.9 11 2.25 15 2.55 20 2.97"/>
<path class="l" d="M0 0L.5 .9 1 1.45 1.5 1.6 3 1.65 5 1.68 10 1.85 15 2 20 2.15"/>
<path class="c" d="M0 0L.5 .9 1 1.45 2 1.55 4 1.55 7 1.68 10 1.85 15 2.1 20 2.33"/>
<path class="p" d="M0 0L1 .8 2 .95 4 .92 6 .85 10 .8 20 .8"/>
<path class="o" d="M0 0L1 .5 2 .6 4 .6 8 .65 12 .7 20 .75"/>
<path class="g" d="M0 0L1 .5 2 .7 4 .65 6 .5 8 .35 11 .15 15 -.1 20 -.45"/>
<path class="g" d="M0 0L1 .35 2 .45 5 .48 10 .45 15 .4 20 .35"/>
<path class="b" d="M0 0L1 .35 2 .42 5 .45 10 .45 15 .35 20 .25"/>
<path class="c" d="M0 0L1 .4 2 .48 5 .42 10 .4 15 .35 20 .3"/>
<path class="l" d="M0 0L1 .5 2 .6 4 .52 7 .4 10 .3 15 .15 20 -.05"/>
<path class="a" d="M0 0L1 .25 2 .3 5 .25 8 .2 12 .12 20 0"/>
<path class="n" d="M0 0L.5 .2 1 .3 2 .28 3 .15 5 .05 10 0 15 -.02 20 -.05"/>
<path class="k" d="M0 0L1 .3 2 .35 5 .32 8 .28 12 .15 16 0 20 -.2"/>
<path class="r" d="M0 0L.3 .15 .6 .1 1 -.08 1.5 -.1 3 -.15 5 -.2 10 -.22 20 -.28"/>
</g></g>
<rect class="ax" x="559.3" y="327.7" width="147.6" height="131.8"/>
<path class="tk" d="M566 459.5v3.5M633.1 459.5v3.5M700.2 459.5v3.5M559.3 331.4h-3.5M559.3 366.5h-3.5M559.3 401.6h-3.5M559.3 436.7h-3.5"/>
<text class="xt" x="566" y="475.5">0</text><text class="xt" x="633.1" y="475.5">10</text><text class="xt" x="700.2" y="475.5">20</text>
<text class="yt" x="552.3" y="335">3</text><text class="yt" x="552.3" y="370.1">2</text><text class="yt" x="552.3" y="405.2">1</text><text class="yt" x="552.3" y="440.3">0</text>
</svg>
</body></html>
